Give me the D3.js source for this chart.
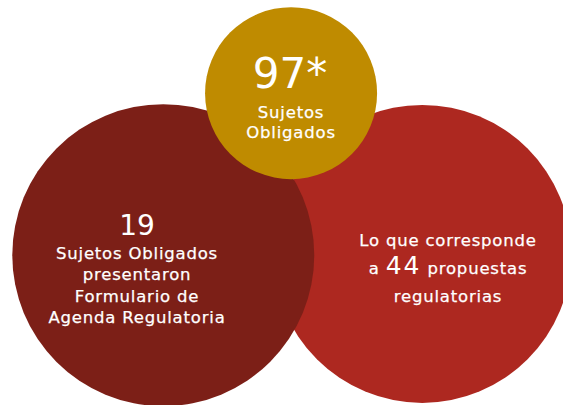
<!DOCTYPE html>
<html>
<head>
<meta charset="utf-8">
<script src="https://cdn.jsdelivr.net/npm/d3@7"></script>
<style>
  body { margin: 0; background: #fff; }
  text { font-family: "DejaVu Sans", "Noto Sans", sans-serif; fill: #fff; }
  .caption { font-size: 16.5px; letter-spacing: 0.8px; stroke: #fff; stroke-width: 0.25px; }
</style>
</head>
<body>
<div id="chart"></div>
<script>
// Data
const groups = ["obligados", "formulario", "propuestas"]
const values = [97, 19, 44]
const valueLabels = ["97*", "19", "44"]
const colors = ["#bf8b00", "#7c1f17", "#ad2820"]
const captions = [
  ["Sujetos", "Obligados"],
  ["Sujetos Obligados", "presentaron", "Formulario de", "Agenda Regulatoria"],
  ["Lo que corresponde", "a {v} propuestas", "regulatorias"],
]

// Variables
const width = 563
const height = 405

// layout in a 0..100 grid, mapped through scales
const layout = {
  obligados: { cx: 51.7, cy: 23, r: 86 },
  formulario: { cx: 29, cy: 63, r: 151 },
  propuestas: { cx: 75, cy: 62.7, r: 149 },
}

const xScale = d3.scaleLinear().domain([0, 100]).range([0, width])
const yScale = d3.scaleLinear().domain([0, 100]).range([0, height])

const dataset = groups.map((g, i) => ({
  key: g,
  value: values[i],
  label: valueLabels[i],
  color: colors[i],
  lines: captions[i],
  ...layout[g],
}))

const svg = d3.select("#chart")
  .append("svg")
  .attr("width", width)
  .attr("height", height)

// draw order: right red, dark red, gold on top
const drawOrder = ["propuestas", "formulario", "obligados"]
  .map(k => dataset.find(d => d.key === k))

svg.selectAll("circle")
  .data(drawOrder)
  .join("circle")
    .attr("cx", d => xScale(d.cx))
    .attr("cy", d => yScale(d.cy))
    .attr("r", d => d.r)
    .attr("fill", d => d.color)

// Gold text
const gold = dataset[0]
const gx = xScale(gold.cx)
svg.append("text")
  .attr("x", gx - 1)
  .attr("y", 88)
  .attr("text-anchor", "middle")
  .style("font-size", "42px")
  .text(gold.label)
gold.lines.forEach((t, i) => {
  svg.append("text")
    .attr("class", "caption")
    .attr("x", gx)
    .attr("y", 118 + i * 20)
    .attr("text-anchor", "middle")
    .text(t)
})

// Dark red text
const dark = dataset[1]
const dx = 137
svg.append("text")
  .attr("x", dx)
  .attr("y", 235)
  .attr("text-anchor", "middle")
  .style("font-size", "28px")
  .text(dark.label)
dark.lines.forEach((t, i) => {
  svg.append("text")
    .attr("class", "caption")
    .attr("x", dx)
    .attr("y", 259 + i * 21.3)
    .attr("text-anchor", "middle")
    .text(t)
})

// Right red text
const red = dataset[2]
const rx = 448
red.lines.forEach((t, i) => {
  const txt = svg.append("text")
    .attr("class", "caption")
    .attr("x", rx)
    .attr("y", 246 + i * 28)
    .attr("text-anchor", "middle")
  if (t.includes("{v}")) {
    const parts = t.split("{v}")
    txt.append("tspan").text(parts[0])
    txt.append("tspan")
      .style("font-size", "25px")
      .style("letter-spacing", "2px")
      .style("stroke-width", "0")
      .text(red.label)
    txt.append("tspan").text(parts[1])
  } else {
    txt.text(t)
  }
})
</script>
</body>
</html>
